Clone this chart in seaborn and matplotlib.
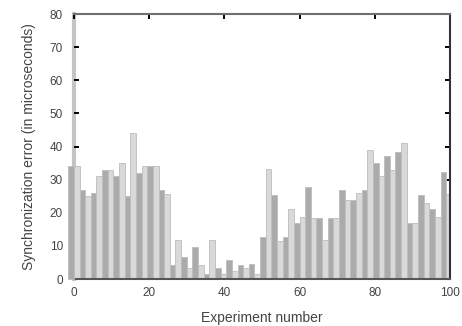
import matplotlib
matplotlib.use("Agg")
import matplotlib.pyplot as plt
import numpy as np
import pandas as pd
import seaborn as sns

# synchronization error per run (microseconds), two interleaved series
dark_err = [34, 27, 26, 33, 31, 25, 32, 34, 27, 4.2, 6.7, 9.8, 1.5, 3.3, 5.7, 4.2, 4.5,
            12.8, 25.4, 12.8, 16.9, 27.8, 18.4, 18.4, 27, 24, 27, 35, 37, 38.5, 16.9, 25.4,
            21.1, 32.4]
light_err = [34, 25, 31, 33, 35, 44, 34, 34, 25.7, 11.8, 3.3, 4.2, 11.8, 1.5, 2.5, 3.3, 1.5,
             33.2, 11.6, 21.1, 18.7, 18.4, 11.8, 18.4, 24, 26, 39, 31, 33, 41, 16.9, 23,
             18.7, 25.7]
dark_x = np.arange(len(dark_err)) * 3 - 0.75
light_x = np.arange(len(light_err)) * 3 + 0.75

x_ticks = [0, 20, 40, 60, 80, 100]
y_ticks = [0, 10, 20, 30, 40, 50, 60, 70, 80]

df = pd.DataFrame({
    "exp": np.concatenate([dark_x, light_x]),
    "err": dark_err + light_err,
    "series": ["dark"] * len(dark_err) + ["light"] * len(light_err),
})

sns.set_style("ticks")
plt.rcParams["font.family"] = ["Liberation Sans", "DejaVu Sans"]

fig, ax = plt.subplots(figsize=(4.62, 3.26), dpi=100)
fig.subplots_adjust(left=0.160, right=0.974, top=0.957, bottom=0.144)

sns.barplot(data=df, x="exp", y="err", hue="series", native_scale=True, dodge=False,
            width=1.0, palette={"dark": "#ababab", "light": "#d9d9d9"},
            linewidth=0.6, edgecolor="#bdbdbd", legend=False, ax=ax)

# first bar sits left of the axis in the original
for p in ax.patches:
    if p.get_x() < 0:
        p.set_clip_on(False)
        p.set_zorder(3)

ax.set_xlim(0, 100)
ax.set_ylim(0, 80)
ax.set_xticks(x_ticks)
ax.set_yticks(y_ticks)
ax.tick_params(direction="in", length=3.5, width=1.4, color="black",
               top=True, right=True, labelsize=8.5, labelcolor="#444444")
ax.tick_params(axis="y", pad=8)
ax.tick_params(axis="x", pad=6)

ax.spines["left"].set_color("#c4c4c4")
ax.spines["left"].set_linewidth(3)
ax.spines["left"].set_zorder(0.5)
ax.spines["top"].set_color("#707070")
ax.spines["top"].set_linewidth(1.5)
ax.spines["bottom"].set_color("#555555")
ax.spines["bottom"].set_linewidth(1.5)
ax.spines["right"].set_color("#333333")
ax.spines["right"].set_linewidth(1.5)

ax.set_xlabel("Experiment number", fontsize=10, color="#444444", labelpad=8)
ax.set_ylabel("Synchronization error (in microseconds)", fontsize=10, color="#444444",
              labelpad=10)

fig.savefig("out.png", dpi=100)
